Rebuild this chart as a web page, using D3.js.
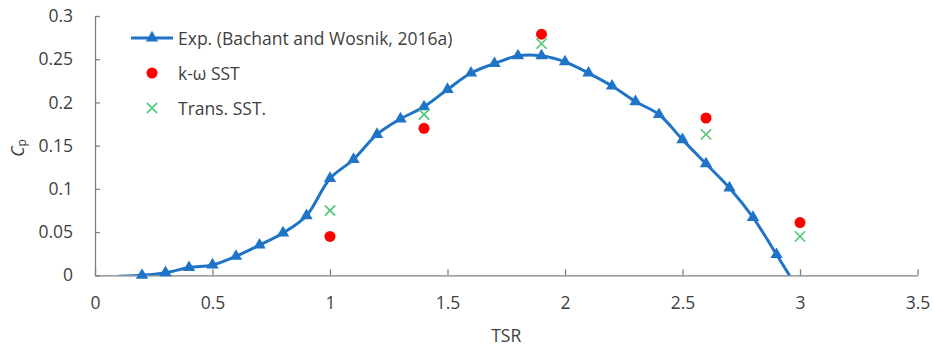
<!DOCTYPE html>
<html>
<head>
<meta charset="utf-8">
<script src="https://cdn.jsdelivr.net/npm/d3@7"></script>
<style>
  html, body { margin: 0; padding: 0; background: #fff; }
  svg { display: block; }
  text { font-family: "Open Sans", "Liberation Sans", sans-serif; fill: #3f3f3f; }
</style>
</head>
<body>
<svg id="chart" width="934" height="349"></svg>
<script>
// Experimental power coefficient vs tip speed ratio
const expTSR = [0.1, 0.2, 0.3, 0.4, 0.5, 0.6, 0.7, 0.8, 0.9, 1.0, 1.1, 1.2, 1.3, 1.4, 1.5,
                1.6, 1.7, 1.8, 1.9, 2.0, 2.1, 2.2, 2.3, 2.4, 2.5, 2.6, 2.7, 2.8, 2.9, 3.0];
const expCp  = [-0.001, 0.000, 0.003, 0.009, 0.012, 0.022, 0.035, 0.049, 0.069, 0.112, 0.134, 0.163, 0.181, 0.195, 0.215,
                0.234, 0.245, 0.254, 0.254, 0.247, 0.234, 0.219, 0.201, 0.186, 0.157, 0.129, 0.101, 0.067, 0.024, -0.020];

// CFD results
const cfdTSR   = [1.0, 1.4, 1.9, 2.6, 3.0];
const kwSstCp  = [0.045, 0.170, 0.279, 0.182, 0.061];
const transCp  = [0.075, 0.186, 0.268, 0.163, 0.045];

// Axis ticks
const xTicks = [0, 0.5, 1, 1.5, 2, 2.5, 3, 3.5];
const yTicks = [0, 0.05, 0.1, 0.15, 0.2, 0.25, 0.3];

const legendLabels = ["Exp. (Bachant and Wosnik, 2016a)", "k-ω SST", "Trans. SST."];

const BLUE = "#1f74c8", RED = "#ff0000", GREEN = "#4cc872", AXIS = "#808080";
const FS = "17.5px";

const svg = d3.select("#chart");
const x = d3.scaleLinear().domain([0, 3.5]).range([95, 917.5]);
const y = d3.scaleLinear().domain([0, 0.3]).range([275.3, 16]);

// clip region = plot area
svg.append("clipPath").attr("id", "plot")
  .append("rect").attr("x", x(0)).attr("y", y(0.3))
  .attr("width", x(3.5) - x(0)).attr("height", y(0) - y(0.3));

// Axes
const xAxis = svg.append("g").attr("transform", `translate(0,${y(0)})`)
  .call(d3.axisBottom(x).tickValues(xTicks).tickSizeInner(-6).tickSizeOuter(0)
        .tickPadding(20).tickFormat(d3.format("")));
const yAxis = svg.append("g").attr("transform", `translate(${x(0)},0)`)
  .call(d3.axisLeft(y).tickValues(yTicks).tickSizeInner(-5).tickSizeOuter(0)
        .tickPadding(22).tickFormat(d3.format("")));
[xAxis, yAxis].forEach(g => {
  g.select(".domain").attr("stroke", AXIS).attr("stroke-width", 1.3);
  g.selectAll(".tick line").attr("stroke", AXIS).attr("stroke-width", 1.3);
  g.selectAll(".tick text").style("font-size", FS).attr("fill", "#3f3f3f");
});
xAxis.selectAll(".tick text").attr("dy", "0.32em").attr("y", 28);

// Axis titles
svg.append("text").attr("x", (x(0) + x(3.5)) / 2).attr("y", 335)
  .attr("text-anchor", "middle").attr("dominant-baseline", "central")
  .style("font-size", FS).text("TSR");

const yl = svg.append("text")
  .attr("transform", `translate(17,148) rotate(-90)`)
  .attr("text-anchor", "middle").attr("dominant-baseline", "central")
  .style("font-size", FS);
yl.append("tspan").attr("font-style", "italic").text("C");
yl.append("tspan").attr("font-size", "12px").attr("dy", "4").text("p");

// Triangle marker
const tri = d3.symbol().type(d3.symbolTriangle).size(66);

// Experimental curve (smoothed line, clipped at axis bounds)
const expData = expTSR.map((t, i) => ({ t, v: expCp[i] }));
const line = d3.line().x(d => x(d.t)).y(d => y(d.v)).curve(d3.curveCatmullRom.alpha(0.5));
svg.append("path").datum(expData).attr("clip-path", "url(#plot)")
  .attr("d", line).attr("fill", "none").attr("stroke", BLUE).attr("stroke-width", 3)
  .attr("stroke-linejoin", "round");
svg.append("g").selectAll("path")
  .data(expData.filter(d => d.v >= 0 && d.v <= 0.3))
  .join("path")
  .attr("transform", d => `translate(${x(d.t)},${y(d.v)})`)
  .attr("d", tri).attr("fill", BLUE);

// k-ω SST points
svg.append("g").selectAll("circle")
  .data(cfdTSR.map((t, i) => ({ t, v: kwSstCp[i] })))
  .join("circle")
  .attr("cx", d => x(d.t)).attr("cy", d => y(d.v)).attr("r", 5.5).attr("fill", RED);

// Transitional SST points
const cross = d3.symbol().type(d3.symbolX).size(70);
svg.append("g").selectAll("path")
  .data(cfdTSR.map((t, i) => ({ t, v: transCp[i] })))
  .join("path")
  .attr("transform", d => `translate(${x(d.t)},${y(d.v)})`)
  .attr("d", cross).attr("fill", "none").attr("stroke", GREEN).attr("stroke-width", 1.6);

// Legend
const lg = svg.append("g");
const ly = [38, 73, 108];
lg.append("line").attr("x1", 131).attr("x2", 173).attr("y1", ly[0]).attr("y2", ly[0])
  .attr("stroke", BLUE).attr("stroke-width", 3);
lg.append("path").attr("transform", `translate(152,${ly[0]})`).attr("d", tri).attr("fill", BLUE);
lg.append("circle").attr("cx", 152).attr("cy", ly[1]).attr("r", 5.5).attr("fill", RED);
lg.append("path").attr("transform", `translate(152,${ly[2]})`).attr("d", cross)
  .attr("fill", "none").attr("stroke", GREEN).attr("stroke-width", 1.6);
lg.selectAll("text").data(legendLabels).join("text")
  .attr("x", 178).attr("y", (d, i) => ly[i])
  .attr("dominant-baseline", "central").style("font-size", FS).text(d => d);
</script>
</body>
</html>
